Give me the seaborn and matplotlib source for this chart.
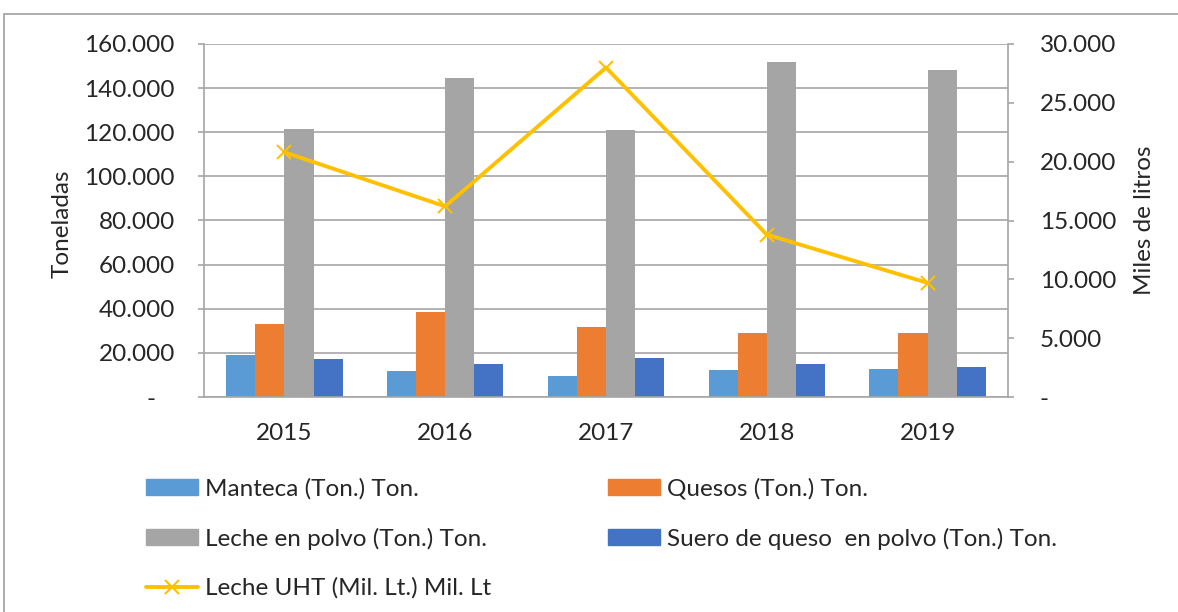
import numpy as np
import pandas as pd
import matplotlib
matplotlib.use("Agg")
import matplotlib.pyplot as plt
import seaborn as sns
from matplotlib.patches import Rectangle, Patch
from matplotlib.lines import Line2D
from matplotlib.ticker import FuncFormatter, MultipleLocator, FixedLocator

years = ["2015", "2016", "2017", "2018", "2019"]
manteca = [19000, 11700, 9500, 12400, 12600]
quesos = [33000, 38600, 31700, 28800, 28800]
leche_polvo = [121500, 144700, 121000, 152000, 148000]
suero = [17000, 15000, 17600, 15000, 13800]
leche_uht = [20800, 16200, 28000, 13800, 9700]

series_names = ["Manteca (Ton.) Ton.", "Quesos (Ton.) Ton.",
                "Leche en polvo (Ton.) Ton.", "Suero de queso  en polvo (Ton.) Ton."]
line_name = "Leche UHT (Mil. Lt.) Mil. Lt"
colors = ["#5B9BD5", "#ED7D31", "#A5A5A5", "#4472C4"]
line_color = "#FFC000"

rows = []
for name, vals in zip(series_names, [manteca, quesos, leche_polvo, suero]):
    for y, v in zip(years, vals):
        rows.append({"Año": y, "Serie": name, "Valor": v})
df = pd.DataFrame(rows)

sns.set_style("white")
plt.rcParams['font.family'] = ['Lato', 'DejaVu Sans']
FS = 17.5

fig = plt.figure(figsize=(11.78, 6.12), dpi=100)
ax = fig.add_axes([204/1178, 1-397/612, (1008-204)/1178, (397-44)/612])

sns.barplot(data=df, x="Año", y="Valor", hue="Serie", hue_order=series_names,
            order=years, palette=colors, width=0.725, gap=0, ax=ax,
            saturation=1, edgecolor="none", legend=False, errorbar=None)

ax2 = ax.twinx()
sns.lineplot(x=np.arange(len(years)), y=leche_uht, ax=ax2, color=line_color,
             linewidth=2.8, marker="x", markersize=10, markeredgewidth=1.5,
             markeredgecolor=line_color, legend=False)

grid_c = "#A6A6A6"
ax.set_ylim(0, 160000)
ax2.set_ylim(0, 30000)
ax.set_xlim(-0.5, len(years) - 0.5)
ax.yaxis.set_major_locator(MultipleLocator(20000))
ax2.yaxis.set_major_locator(MultipleLocator(5000))

def fmt_left(v, pos):
    if abs(v) < 1e-6:
        return "-   "
    return f"{int(round(v)):,}".replace(",", ".")

def fmt_right(v, pos):
    if abs(v) < 1e-6:
        return "-"
    return f"{int(round(v)):,}".replace(",", ".")

ax.yaxis.set_major_formatter(FuncFormatter(fmt_left))
ax2.yaxis.set_major_formatter(FuncFormatter(fmt_right))

ax.grid(axis="y", color=grid_c, linewidth=1.2)
ax.set_axisbelow(True)
ax.xaxis.set_major_locator(FixedLocator(np.arange(-0.5, len(years), 1.0)))
ax.set_xticklabels([], minor=False)
ax.set_xticks(np.arange(len(years)), labels=years, minor=True)
ax.tick_params(axis="x", which="major", length=4.5, color=grid_c, width=1.2, direction="out")
ax.tick_params(axis="x", which="minor", length=0, labelsize=FS, pad=19)
ax.tick_params(axis="y", length=4.5, color=grid_c, width=1.2, labelsize=FS, pad=16.5, left=True)
ax2.tick_params(axis="y", length=4.5, color=grid_c, width=1.2, labelsize=FS, pad=18.5, right=True)
for lab in ax2.get_yticklabels():
    lab.set_horizontalalignment("left")

for a in (ax, ax2):
    for s in a.spines.values():
        s.set_visible(False)
for a, side in ((ax, "left"), (ax, "bottom"), (ax2, "right")):
    a.spines[side].set_visible(True)
    a.spines[side].set_color(grid_c)
    a.spines[side].set_linewidth(1.2)

ax.set_xlabel("")
ax.set_ylabel("Toneladas", fontsize=FS)
ax2.set_ylabel("Miles de litros", fontsize=FS)
ax.yaxis.set_label_coords((73-204)/804, 0.49)
ax2.yaxis.set_label_coords((1134-204)/804, 0.5)
ax2.set_zorder(ax.get_zorder() + 1)
ax2.patch.set_visible(False)

handles = [Patch(color=c, label=n) for c, n in zip(colors, series_names)]
line_h = Line2D([], [], color=line_color, linewidth=2.8, marker="x",
                markersize=10, markeredgewidth=1.5, label=line_name)

leg_kw = dict(loc="upper left", frameon=False, fontsize=FS, handlelength=2.15,
              handleheight=0.6, handletextpad=0.28, labelspacing=1.15,
              borderpad=0, borderaxespad=0)
col1 = [handles[0], handles[2], line_h]
col2 = [handles[1], handles[3]]
leg1 = fig.legend(handles=col1, labels=[h.get_label() for h in col1],
                  bbox_to_anchor=(146/1178, 1-478/612), **leg_kw)
leg2 = fig.legend(handles=col2, labels=[h.get_label() for h in col2],
                  bbox_to_anchor=(608/1178, 1-478/612), **leg_kw)

fig.patches.append(Rectangle((4/1178, -0.1), 1.2, 1.1 - 14/612,
                             transform=fig.transFigure, fill=False,
                             edgecolor="#A0A0A0", linewidth=1.2))

fig.savefig("out.png", dpi=100)
